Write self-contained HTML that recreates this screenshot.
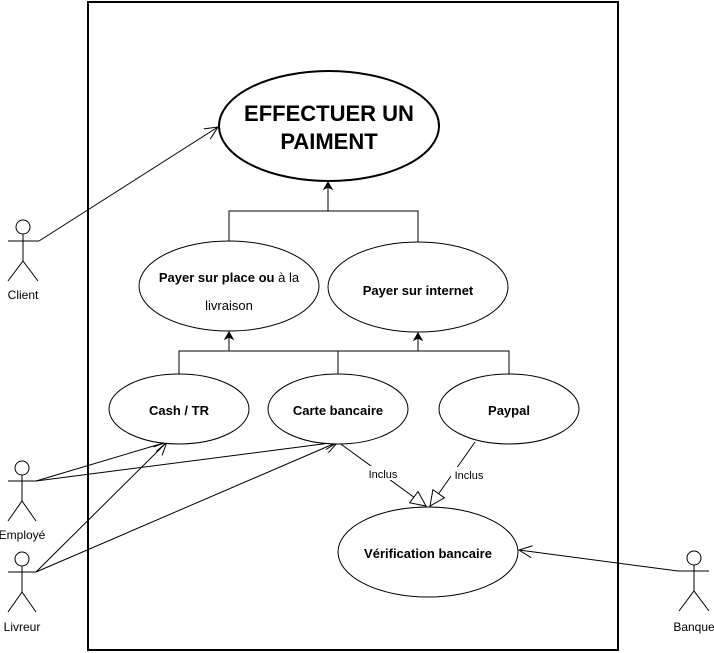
<!DOCTYPE html>
<html><head><meta charset="utf-8"><style>
html,body{margin:0;padding:0;background:#fff;}
svg{display:block;font-family:"Liberation Sans",Arial,sans-serif;}
</style></head><body>
<svg width="714" height="653" viewBox="0 0 714 653" xmlns="http://www.w3.org/2000/svg">
<defs>
<marker id="blk" markerWidth="10" markerHeight="10" refX="8" refY="5" orient="auto" markerUnits="userSpaceOnUse"><path d="M1,1 L8,5 L1,9 L3,5 Z" fill="#000" stroke="#000" stroke-width="1"/></marker>
<marker id="open" markerWidth="16" markerHeight="14" refX="14" refY="7" orient="auto" markerUnits="userSpaceOnUse"><path d="M1,1 L14,7 L1,13" fill="none" stroke="#000" stroke-width="1"/></marker>
<marker id="tri" markerWidth="18" markerHeight="18" refX="16" refY="9" orient="auto" markerUnits="userSpaceOnUse"><path d="M1,2 L16,9 L1,16 Z" fill="#fff" stroke="#000" stroke-width="1"/></marker>
</defs>
<rect x="88" y="2" width="530" height="648" fill="none" stroke="#000" stroke-width="2"/>

<g fill="none" stroke="#000" stroke-width="1">
<polyline points="229,241 229,211 418,211 418,242"/>
<line x1="328" y1="211" x2="328" y2="182" marker-end="url(#blk)"/>
<polyline points="179,374 179,351 509,351 509,374"/>
<line x1="338" y1="351" x2="338" y2="374"/>
<line x1="229" y1="351" x2="229" y2="332" marker-end="url(#blk)"/>
<line x1="418" y1="351" x2="418" y2="333" marker-end="url(#blk)"/>
<line x1="39" y1="241" x2="218" y2="127" marker-end="url(#open)"/>
<line x1="36" y1="481" x2="167" y2="442" marker-end="url(#open)"/>
<line x1="36" y1="481" x2="338" y2="442" marker-end="url(#open)"/>
<line x1="36" y1="572" x2="167" y2="442" marker-end="url(#open)"/>
<line x1="36" y1="572" x2="338" y2="442" marker-end="url(#open)"/>
<line x1="678" y1="571" x2="519" y2="550" marker-end="url(#open)"/>
<line x1="338" y1="442" x2="426" y2="506" marker-end="url(#tri)"/>
<line x1="475" y1="442" x2="430" y2="506" marker-end="url(#tri)"/>
</g>
<rect x="365" y="466" width="36" height="14" fill="#fff"/>
<rect x="451" y="467" width="36" height="14" fill="#fff"/>
<text x="383" y="478" font-size="11" text-anchor="middle">Inclus</text>
<text x="469" y="479" font-size="11" text-anchor="middle">Inclus</text>

<g fill="#fff" stroke="#000">
<ellipse cx="329" cy="126" rx="110" ry="55" stroke-width="2"/>
<ellipse cx="229" cy="286" rx="90" ry="45" stroke-width="1"/>
<ellipse cx="418" cy="287" rx="90" ry="45" stroke-width="1"/>
<ellipse cx="179" cy="409" rx="70" ry="35" stroke-width="1"/>
<ellipse cx="338" cy="409" rx="70" ry="35" stroke-width="1"/>
<ellipse cx="509" cy="409" rx="70" ry="35" stroke-width="1"/>
<ellipse cx="428" cy="552" rx="90" ry="45" stroke-width="1"/>
</g>

<g text-anchor="middle" font-weight="bold">
<text x="329" y="121" font-size="22">EFFECTUER UN</text>
<text x="329" y="149" font-size="22">PAIMENT</text>
<text x="229" y="282" font-size="13">Payer sur place  ou <tspan font-weight="normal">à la</tspan></text>
<text x="229" y="310" font-size="13" font-weight="normal">livraison</text>
<text x="418" y="295" font-size="13">Payer sur internet</text>
<text x="179" y="415" font-size="13">Cash / TR</text>
<text x="338" y="415" font-size="13">Carte bancaire</text>
<text x="509" y="415" font-size="13">Paypal</text>
<text x="428" y="558" font-size="13">Vérification bancaire</text>
</g>

<g fill="none" stroke="#000" stroke-width="1">
<circle cx="23" cy="227" r="7"/><line x1="23" y1="234" x2="23" y2="261"/><line x1="8" y1="241" x2="39" y2="241"/><polyline points="8,281 23,261 38,281"/>
<circle cx="22" cy="468" r="7"/><line x1="22" y1="475" x2="22" y2="501"/><line x1="8" y1="481" x2="36" y2="481"/><polyline points="8,521 22,501 36,521"/>
<circle cx="22" cy="559" r="7"/><line x1="22" y1="566" x2="22" y2="592"/><line x1="8" y1="572" x2="36" y2="572"/><polyline points="8,612 22,592 36,612"/>
<circle cx="694" cy="558" r="7"/><line x1="694" y1="565" x2="694" y2="591"/><line x1="678" y1="571" x2="709" y2="571"/><polyline points="679,611 694,591 709,611"/>
</g>
<g font-size="12" text-anchor="middle">
<text x="23" y="299">Client</text>
<text x="22" y="539">Employé</text>
<text x="22" y="631">Livreur</text>
<text x="694" y="631">Banque</text>
</g>
</svg>
</body></html>
